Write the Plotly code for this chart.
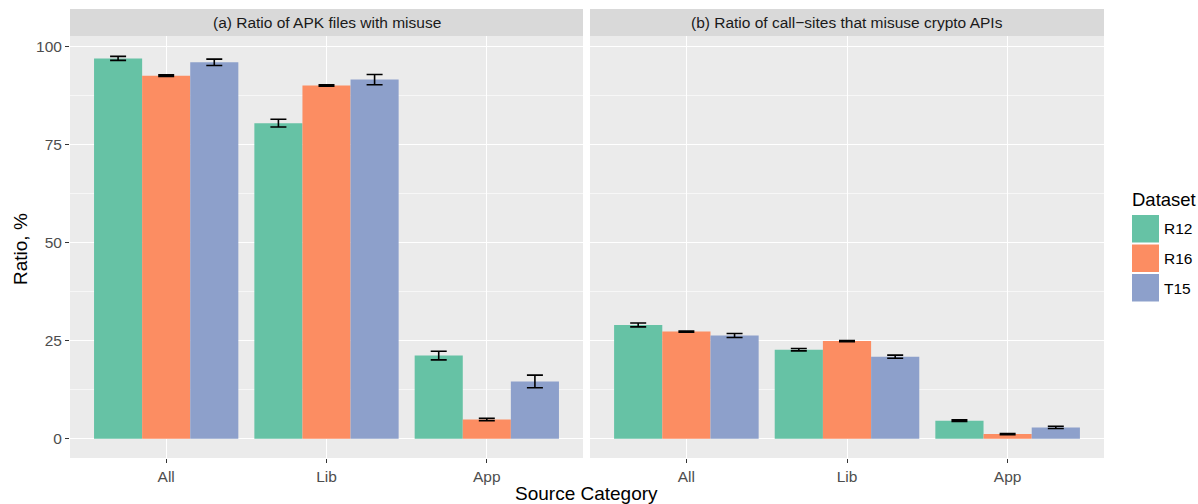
import plotly.graph_objects as go

categories = ["All", "Lib", "App"]
datasets = ["R12", "R16", "T15"]
colors = ["#66C2A5", "#FC8D62", "#8DA0CB"]

# Panel (a): ratio of APK files with misuse
apk_R12 = [96.9, 80.4, 21.2]
apk_R16 = [92.5, 90.0, 4.9]
apk_T15 = [95.9, 91.5, 14.6]
apk_R12_err = [0.5, 1.0, 1.1]
apk_R16_err = [0.2, 0.2, 0.3]
apk_T15_err = [0.8, 1.3, 1.6]

# Panel (b): ratio of call-sites that misuse crypto APIs
cs_R12 = [29.0, 22.7, 4.6]
cs_R16 = [27.3, 24.9, 1.2]
cs_T15 = [26.3, 20.9, 2.9]
cs_R12_err = [0.5, 0.3, 0.2]
cs_R16_err = [0.15, 0.15, 0.15]
cs_T15_err = [0.5, 0.4, 0.3]

panel_titles = ["(a) Ratio of APK files with misuse",
                "(b) Ratio of call\u2212sites that misuse crypto APIs"]
y_ticks = [0, 25, 50, 75, 100]

W, H = 1198, 504
FONT = "Liberation Sans, Arial, Helvetica, sans-serif"

def px_x(p): return p / W
def px_y(p): return 1 - p / H

fig = go.Figure()

panels = [
    ([apk_R12, apk_R16, apk_T15], [apk_R12_err, apk_R16_err, apk_T15_err], "x", "y"),
    ([cs_R12, cs_R16, cs_T15], [cs_R12_err, cs_R16_err, cs_T15_err], "x2", "y2"),
]
for vals, errs, xa, ya in panels:
    for name, v, e, c in zip(datasets, vals, errs, colors):
        fig.add_trace(go.Bar(
            x=categories, y=v, name=name, marker=dict(color=c, line=dict(width=0)),
            error_y=dict(type="data", array=e, visible=True, color="black",
                         thickness=1.6, width=8),
            xaxis=xa, yaxis=ya, showlegend=False, offsetgroup=name,
        ))

x_dom = [[px_x(70), px_x(583)], [px_x(590), px_x(1104)]]
y_dom = [px_y(458), px_y(36)]

axis_common_x = dict(
    type="category", categoryorder="array", categoryarray=categories,
    range=[-0.6, 2.6], showgrid=True, gridcolor="white", gridwidth=1.1,
    ticks="outside", ticklen=4, tickcolor="#333333", tickwidth=1,
    tickfont=dict(family=FONT, size=15.5, color="#4D4D4D"),
    showline=False, zeroline=False,
)
axis_common_y = dict(
    range=[-4.9, 102.6], tickvals=y_ticks, showgrid=True, gridcolor="white",
    gridwidth=1.1, zeroline=False, showline=False,
    minor=dict(tick0=12.5, dtick=25, showgrid=True, gridcolor="#F7F7F7", gridwidth=0.6),
)

fig.update_layout(
    width=W, height=H,
    margin=dict(l=0, r=0, t=0, b=0),
    paper_bgcolor="white", plot_bgcolor="#EBEBEB",
    barmode="group", bargap=0.1, bargroupgap=0,
    font=dict(family=FONT),
    xaxis=dict(domain=x_dom[0], anchor="y", **axis_common_x),
    xaxis2=dict(domain=x_dom[1], anchor="y2", **axis_common_x),
    yaxis=dict(domain=y_dom, anchor="x", ticks="outside", ticklen=4,
               tickcolor="#333333", tickfont=dict(family=FONT, size=15.5, color="#4D4D4D"),
               **axis_common_y),
    yaxis2=dict(domain=y_dom, anchor="x2", showticklabels=False, ticks="",
                **axis_common_y),
)

shapes = []
annotations = []
# strip headers
for dom, title in zip(x_dom, panel_titles):
    shapes.append(dict(type="rect", xref="paper", yref="paper",
                       x0=dom[0], x1=dom[1], y0=px_y(36), y1=px_y(9),
                       fillcolor="#D9D9D9", line=dict(width=0), layer="below"))
    annotations.append(dict(text=title, xref="paper", yref="paper",
                            x=(dom[0] + dom[1]) / 2, y=px_y(22.5), showarrow=False,
                            xanchor="center", yanchor="middle",
                            font=dict(family=FONT, size=15.5, color="#1A1A1A")))

# axis titles
annotations.append(dict(text="Source Category", xref="paper", yref="paper",
                        x=px_x(586), y=px_y(493), showarrow=False,
                        xanchor="center", yanchor="middle",
                        font=dict(family=FONT, size=19, color="black")))
annotations.append(dict(text="Ratio, %", xref="paper", yref="paper",
                        x=px_x(20), y=px_y(249), showarrow=False, textangle=-90,
                        xanchor="center", yanchor="middle",
                        font=dict(family=FONT, size=19, color="black")))

# legend
annotations.append(dict(text="Dataset", xref="paper", yref="paper",
                        x=px_x(1130), y=px_y(200), showarrow=False,
                        xanchor="left", yanchor="middle",
                        font=dict(family=FONT, size=18.5, color="black")))
key_tops = [215, 244.5, 274]
for name, c, top in zip(datasets, colors, key_tops):
    shapes.append(dict(type="rect", xref="paper", yref="paper",
                       x0=px_x(1132), x1=px_x(1159), y0=px_y(top + 27.5), y1=px_y(top),
                       fillcolor=c, line=dict(width=0)))
    annotations.append(dict(text=name, xref="paper", yref="paper",
                            x=px_x(1162), y=px_y(top + 14), showarrow=False,
                            xanchor="left", yanchor="middle",
                            font=dict(family=FONT, size=15.5, color="black")))

fig.update_layout(shapes=shapes, annotations=annotations)
fig.write_html("out.html", config={"displayModeBar": False},
               post_script="document.body.style.margin='0';document.body.style.overflow='hidden';")
